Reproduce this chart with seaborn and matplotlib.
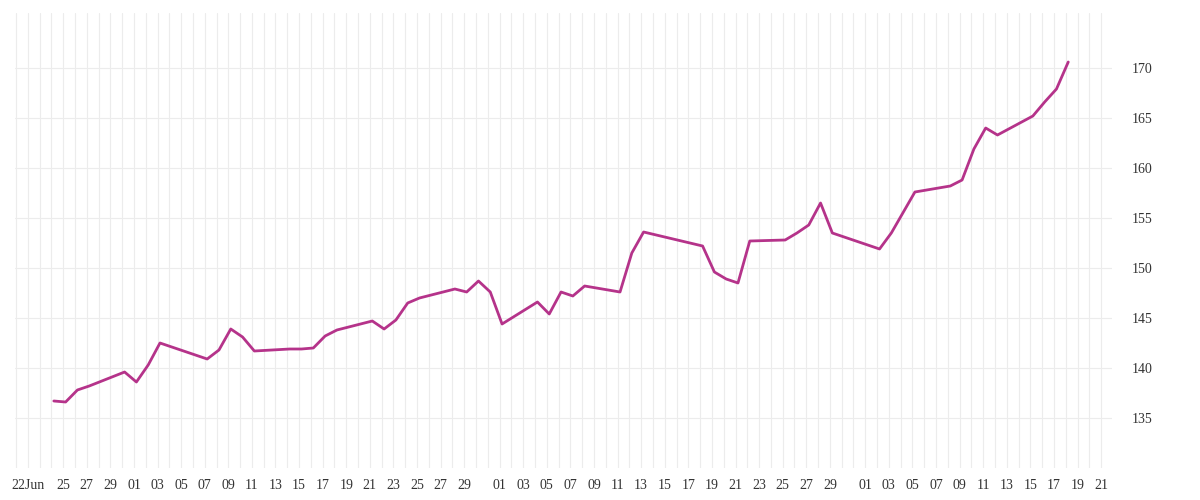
import matplotlib
matplotlib.use("Agg")
import matplotlib.pyplot as plt
import matplotlib.dates as mdates
import seaborn as sns
import pandas as pd
import numpy as np

dates = ["2025-06-24","2025-06-25","2025-06-26","2025-06-27","2025-06-30","2025-07-01","2025-07-02","2025-07-03",
         "2025-07-07","2025-07-08","2025-07-09","2025-07-10","2025-07-11","2025-07-14","2025-07-15","2025-07-16",
         "2025-07-17","2025-07-18","2025-07-21","2025-07-22","2025-07-23","2025-07-24","2025-07-25","2025-07-28",
         "2025-07-29","2025-07-30","2025-07-31","2025-08-01","2025-08-04","2025-08-05","2025-08-06","2025-08-07",
         "2025-08-08","2025-08-11","2025-08-12","2025-08-13","2025-08-18","2025-08-19","2025-08-20","2025-08-21",
         "2025-08-22","2025-08-25","2025-08-26","2025-08-27","2025-08-28","2025-08-29","2025-09-02","2025-09-03",
         "2025-09-05","2025-09-08","2025-09-09","2025-09-10","2025-09-11","2025-09-12","2025-09-15","2025-09-16",
         "2025-09-17","2025-09-18"]
values = [136.7,136.6,137.8,138.2,139.6,138.6,140.3,142.5,
          140.9,141.8,143.9,143.1,141.7,141.9,141.9,142.0,
          143.2,143.8,144.7,143.9,144.8,146.5,147.0,147.9,
          147.6,148.7,147.6,144.4,146.6,145.4,147.6,147.2,
          148.2,147.6,151.5,153.6,152.2,149.6,148.9,148.5,
          152.7,152.8,153.5,154.3,156.5,153.5,151.9,153.5,
          157.6,158.2,158.8,161.9,164.0,163.3,165.2,166.6,
          167.9,170.6]
ytick_vals = [135,140,145,150,155,160,165,170]

df = pd.DataFrame({"date": pd.to_datetime(dates) + pd.Timedelta(hours=5), "value": values})

sns.set_theme(style="white")
plt.rcParams['font.family'] = ['Liberation Serif', 'DejaVu Serif']

fig = plt.figure(figsize=(12, 5), dpi=100)
ax = fig.add_axes([15/1200, 32/500, 1097/1200, 455/500])
sns.lineplot(data=df, x="date", y="value", ax=ax, color="#b5338a", linewidth=2)

ax.set_xlim(pd.Timestamp("2025-06-20 22:00"), pd.Timestamp("2025-09-21 22:00"))
ax.set_ylim(130, 175.5)

ax.xaxis.set_minor_locator(mdates.DayLocator())
ticks = [pd.Timestamp("2025-06-22")] + [d for d in pd.date_range("2025-06-25", "2025-09-21")
                                         if d.day % 2 == 1 and d.day != 31]
ax.set_xticks(ticks)
ax.set_xticklabels(["22Jun"] + [d.strftime("%d") for d in ticks[1:]])
ax.set_yticks(ytick_vals)
ax.yaxis.tick_right()
ax.grid(True, which="both", axis="x", color="#ececec", linewidth=0.8)
ax.grid(True, which="major", axis="y", color="#ececec", linewidth=0.8)
ax.tick_params(axis="both", which="both", length=0, labelsize=10, colors="#333333")
ax.tick_params(axis="y", pad=14)
ax.tick_params(axis="x", pad=8)
ax.set_xlabel("")
ax.set_ylabel("")
for s in ax.spines.values():
    s.set_visible(False)

fig.savefig("out.png", dpi=100)
